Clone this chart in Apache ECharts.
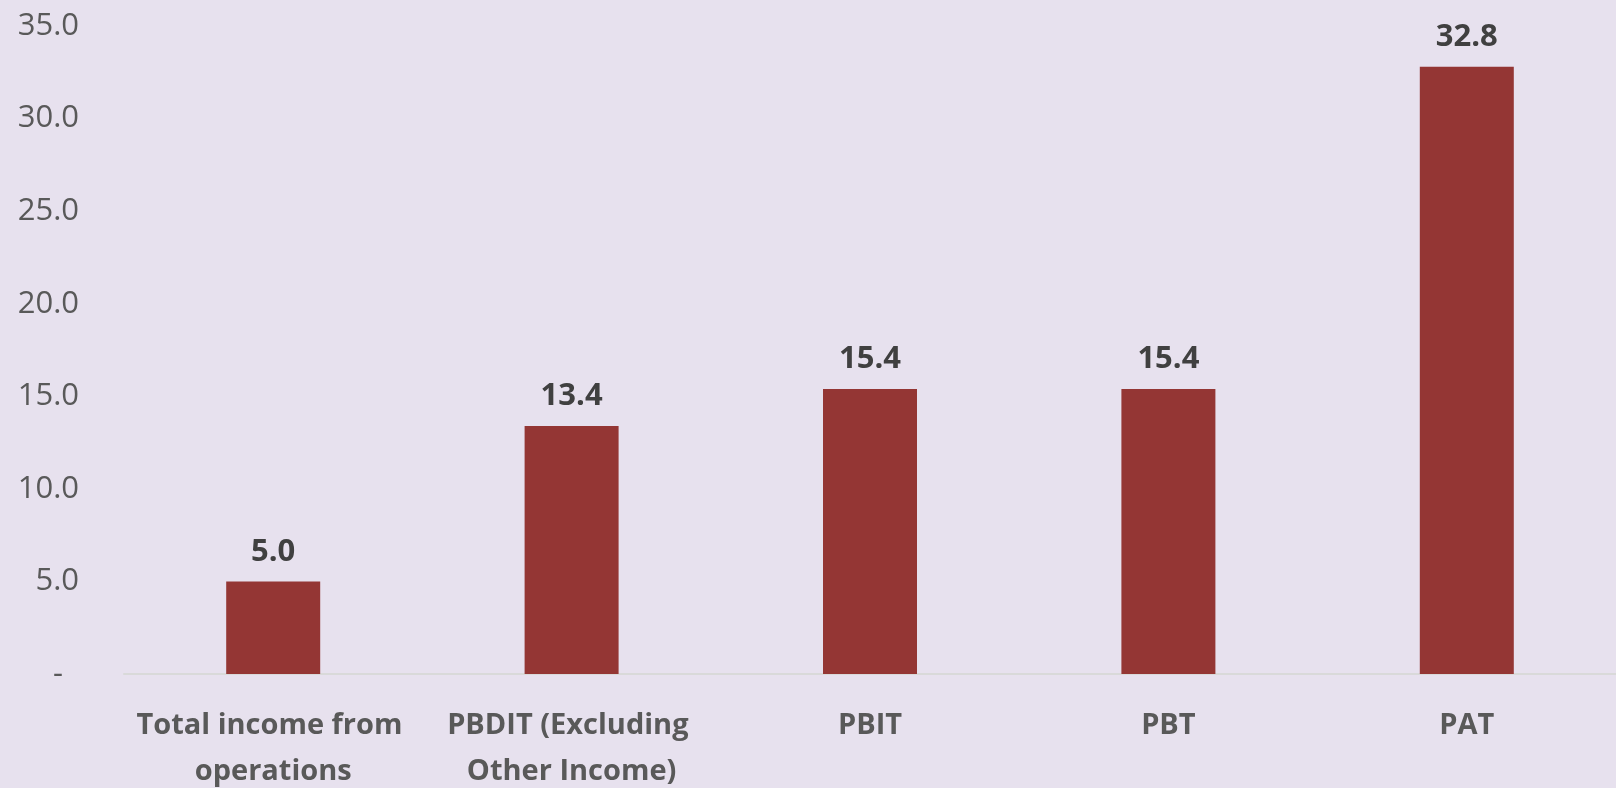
<!DOCTYPE html>
<html>
<head>
<meta charset="utf-8">
<script src="https://cdn.jsdelivr.net/npm/echarts@6/dist/echarts.min.js"></script>
<style>
html,body{margin:0;padding:0;background:#E7E1EE;}
#c{width:1616px;height:788px;}
</style>
</head>
<body>
<div id="c"></div>
<script>
const categories = ['Total income from operations', 'PBDIT (Excluding Other Income)', 'PBIT', 'PBT', 'PAT'];
const values = [5.0, 13.4, 15.4, 15.4, 32.8];
const yMin = 0, yMax = 35, yStep = 5;

const chart = echarts.init(document.getElementById('c'));
chart.setOption({
  backgroundColor: '#E7E1EE',
  animation: false,
  grid: { left: 124, right: 0, top: 26, bottom: 114, containLabel: false, outerBoundsMode: 'none' },
  xAxis: {
    type: 'category',
    data: categories,
    axisLine: { lineStyle: { color: '#D9D9D9', width: 2 } },
    axisTick: { show: false },
    axisLabel: {
      interval: 0,
      width: 285,
      overflow: 'break',
      fontFamily: 'Open Sans',
      fontWeight: 'bold',
      fontSize: 29,
      lineHeight: 46,
      color: '#595959',
      margin: 29
    }
  },
  yAxis: {
    type: 'value',
    min: yMin, max: yMax, interval: yStep,
    splitLine: { show: false },
    axisLine: { show: false },
    axisTick: { show: false },
    axisLabel: {
      fontFamily: 'Open Sans',
      fontSize: 31,
      color: '#595959',
      margin: 45,
      formatter: v => v === 0 ? '-  ' : v.toFixed(1)
    }
  },
  series: [{
    type: 'bar',
    data: values,
    barWidth: '31.5%',
    itemStyle: { color: '#943634' },
    label: {
      show: true,
      position: 'top',
      distance: 14,
      fontFamily: 'Open Sans',
      fontWeight: 'bold',
      fontSize: 31,
      color: '#404040',
      formatter: p => p.value.toFixed(1)
    }
  }]
});
</script>
</body>
</html>
